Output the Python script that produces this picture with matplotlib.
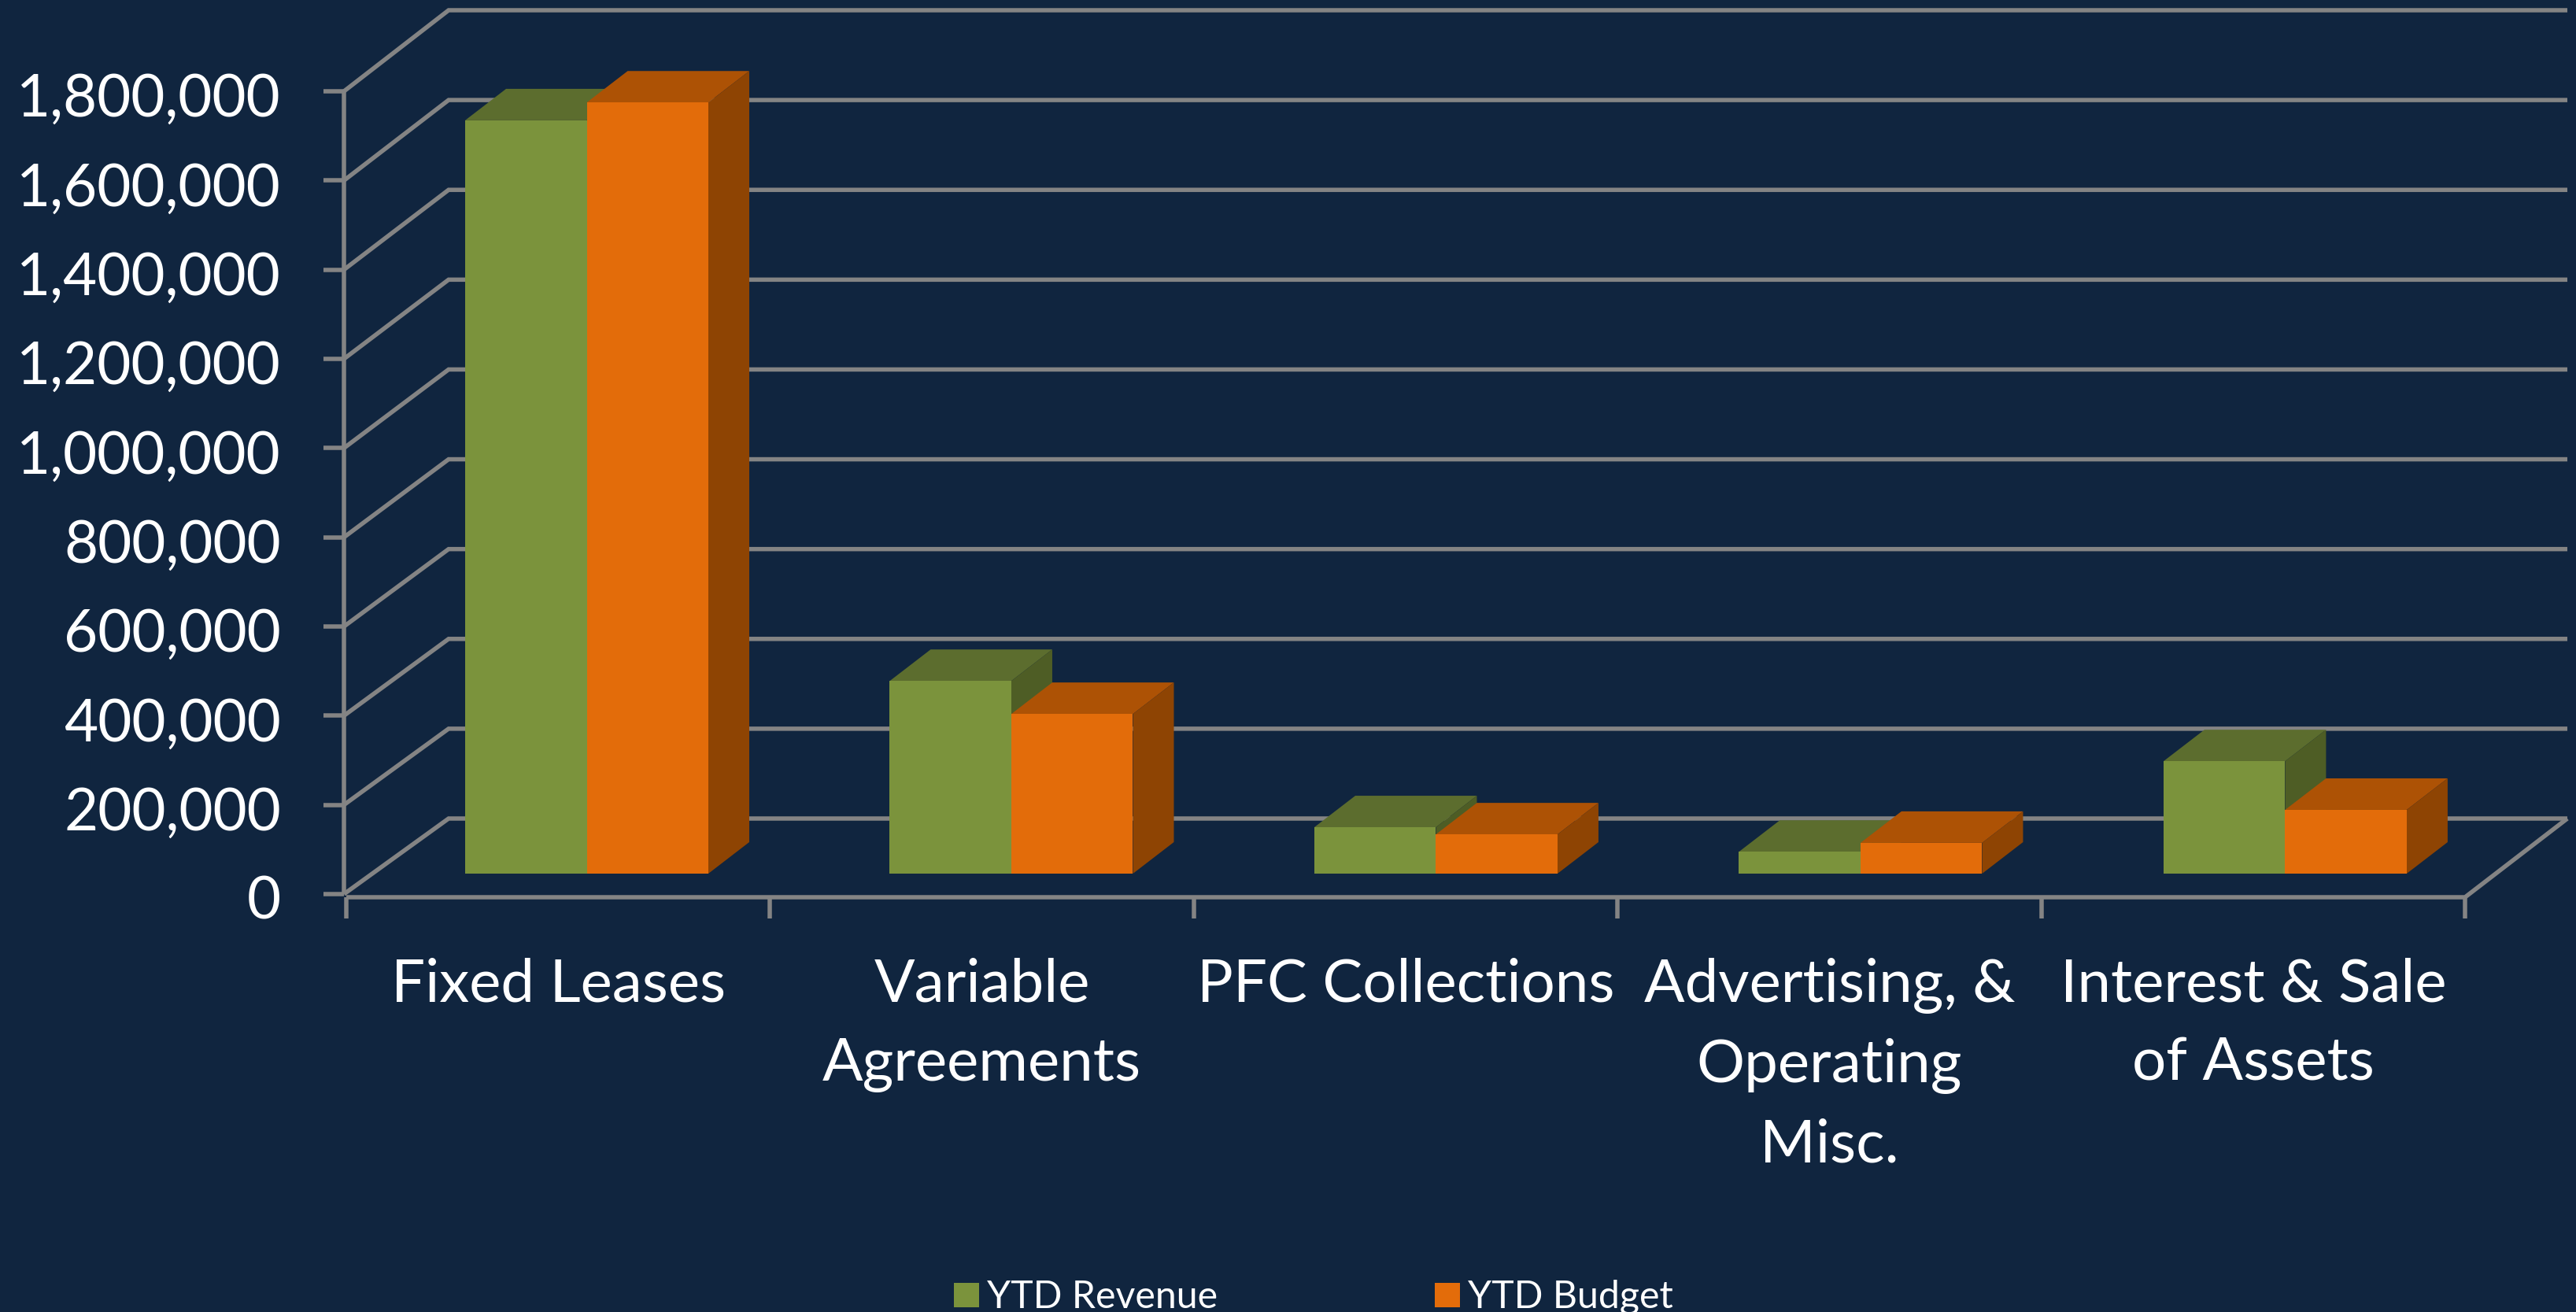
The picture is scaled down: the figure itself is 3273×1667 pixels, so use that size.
import matplotlib
matplotlib.use("Agg")
import matplotlib.pyplot as plt
from matplotlib.patches import Polygon

categories = ["Fixed Leases", "Variable\nAgreements", "PFC Collections",
              "Advertising, &\nOperating\nMisc.", "Interest & Sale\nof Assets"]
ytd_revenue = [1689000, 432000, 104000, 49000, 252000]
ytd_budget = [1729000, 358000, 88000, 69000, 143000]
y_ticks = list(range(0, 2000000, 200000))
legend_labels = ["YTD Revenue", "YTD Budget"]

BG = "#10253F"
GRID = "#848484"
series = [(ytd_revenue, "#7B933C", "#5C6D2E", "#4E5D25"),
          (ytd_budget, "#E36C0A", "#AD5205", "#8E4403")]

W, H = 3273, 1668
fig = plt.figure(figsize=(W / 300, H / 300), dpi=300, facecolor=BG)
ax = fig.add_axes([0, 0, 1, 1], facecolor=BG)
ax.axis("off")

# scales: category units across, value units up
PX_X = 538.4
PX_Y = 1020 / 1800000
x0_px, y0_px = 440, 1137
ax.set_xlim(-x0_px / PX_X, (W - x0_px) / PX_X)
ax.set_ylim(-(H - y0_px) / PX_Y, y0_px / PX_Y)

# oblique depth of the floor, in data units
DX = 130 / PX_X
DY = 100 / PX_Y
FLOOR = -4 / PX_Y
WALL = 1027 / 1020
LW = 5.5 * 72 / 300
GRID_KW = dict(color=GRID, lw=LW, solid_capstyle="butt", solid_joinstyle="miter")

n = len(categories)
for v in y_ticks:
    yb = v * WALL + FLOOR + DY
    ax.plot([-3 / PX_X, DX, n + DX], [v, yb, yb], **GRID_KW, zorder=1)
    ax.plot([-29 / PX_X, -3 / PX_X], [v, v], **GRID_KW, zorder=2)
    ax.text(-83 / PX_X, v - 3 / PX_Y, f"{v:,}", color="white", fontsize=17.9, family="Lato",
            ha="right", va="center_baseline")

ax.plot([-3 / PX_X, -3 / PX_X], [0, y_ticks[-1]], **GRID_KW, zorder=2)
ax.plot([0, n, n + DX], [FLOOR, FLOOR, FLOOR + DY], **GRID_KW, zorder=2)
for i in range(n + 1):
    ax.plot([i, i], [FLOOR, FLOOR - 27 / PX_Y], **GRID_KW, zorder=2)

# bars sit between 30% and 70% of the floor depth
BAR_W = 154.5 / PX_X
B0, B1 = 0.3, 0.7
for i in range(n):
    left = i * 1.002 + 151 / PX_X
    for s, (vals, front, top, side) in enumerate(series):
        v = vals[i]
        xl = left + s * BAR_W
        xr = xl + BAR_W
        base = FLOOR + B0 * DY
        ddx = (B1 - B0) * DX
        ddy = (B1 - B0) * DY
        z = 3 + s
        ax.add_patch(Polygon([(xl, base + v), (xr, base + v), (xr + ddx, base + v + ddy),
                              (xl + ddx, base + v + ddy)], fc=top, ec="none", zorder=z))
        ax.add_patch(Polygon([(xr, base), (xr + ddx, base + ddy), (xr + ddx, base + v + ddy),
                              (xr, base + v)], fc=side, ec="none", zorder=z))
        ax.add_patch(Polygon([(xl, base), (xr, base), (xr, base + v), (xl, base + v)],
                             fc=front, ec="none", zorder=z + 0.5))

for i, c in enumerate(categories):
    ax.text(i + 0.5, -80 / PX_Y, c, color="white", fontsize=18.3, family="Lato",
            ha="center", va="top", linespacing=1.55)

# legend
for (vals, front, _, _), lab, x_sw in zip(series, legend_labels, [1212, 1823]):
    xa = (x_sw - x0_px) / PX_X
    ya = (y0_px - 1662) / PX_Y
    ax.add_patch(Polygon([(xa, ya), (xa + 32 / PX_X, ya), (xa + 32 / PX_X, ya + 31 / PX_Y),
                          (xa, ya + 31 / PX_Y)], fc=front, ec="none"))
    ax.text(xa + 42 / PX_X, ya, lab, color="white", fontsize=11.6, family="Lato",
            ha="left", va="baseline")

fig.savefig("out.png", dpi=300, facecolor=BG)
